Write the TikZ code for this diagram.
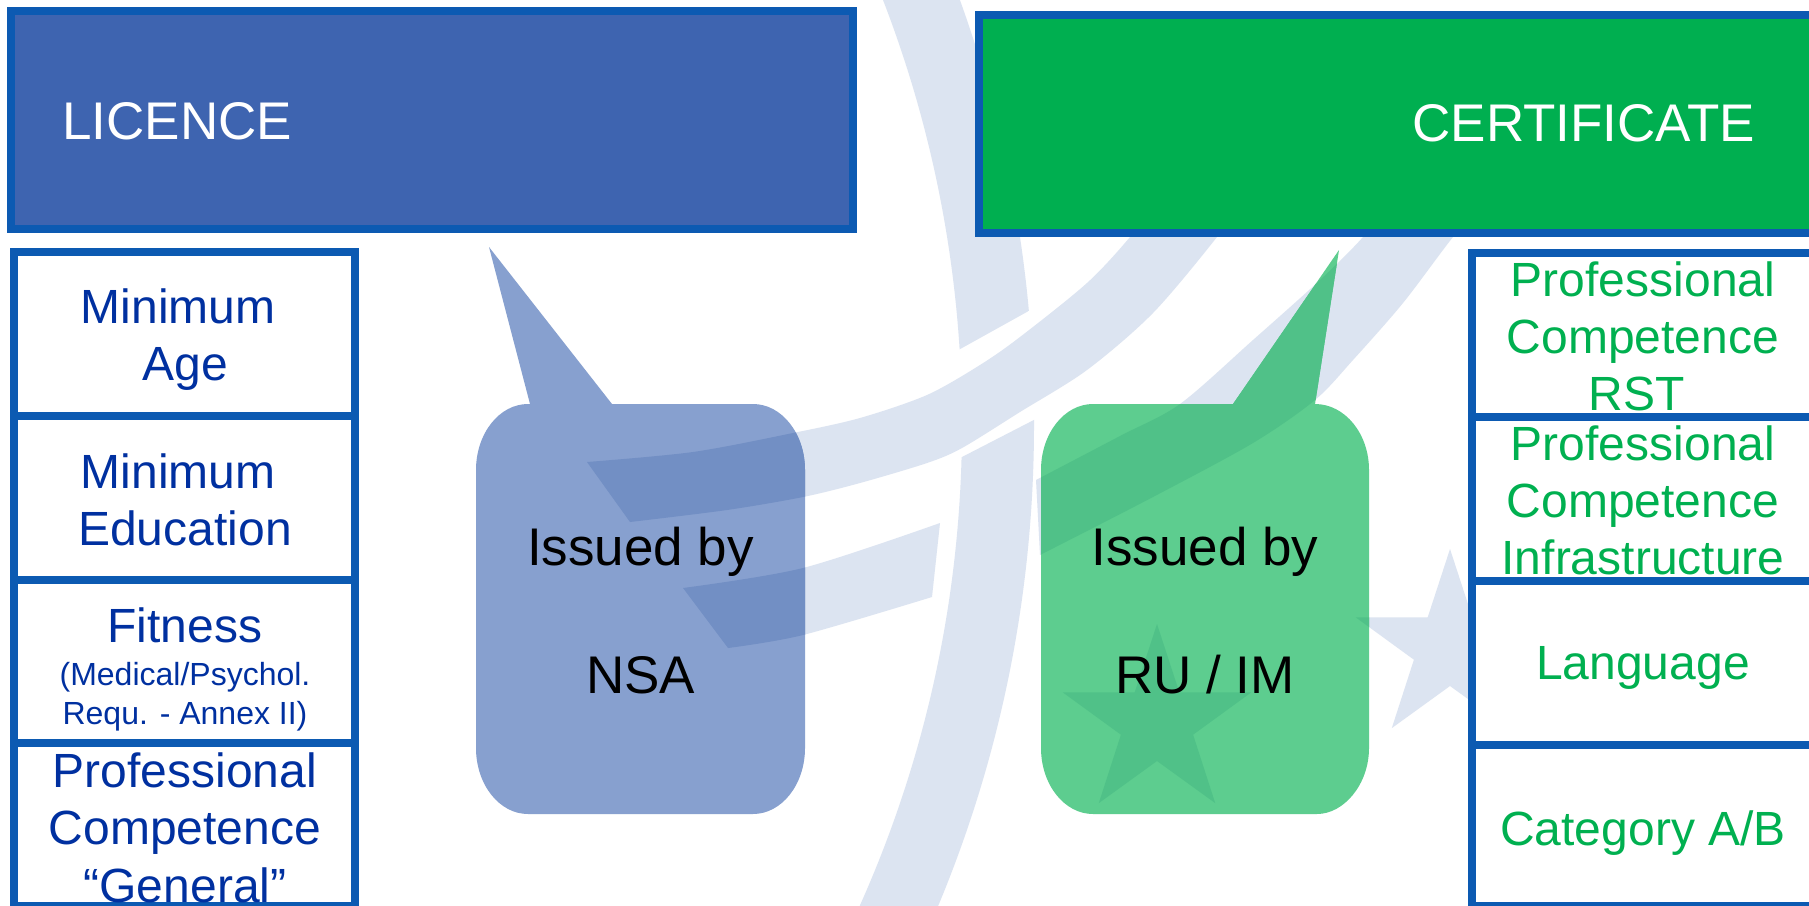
\documentclass[tikz,border=0pt]{standalone}
\usepackage{fontspec}
\setmainfont{Liberation Sans}
\definecolor{wmcol}{RGB}{220,228,241}
\definecolor{callblue}{RGB}{135,160,207}
\definecolor{wmonblue}{RGB}{114,143,196}
\definecolor{callgreen}{RGB}{93,205,143}
\definecolor{wmongreen}{RGB}{80,193,136}
\definecolor{licfill}{RGB}{62,100,176}
\definecolor{certfill}{RGB}{0,175,80}
\definecolor{bordcol}{RGB}{12,90,178}
\definecolor{ltcol}{RGB}{0,48,160}
\definecolor{rtcol}{RGB}{0,176,80}
\tikzset{
  hdrbox/.style={draw=bordcol, line width=4pt},
  colbox/.style={draw=bordcol, line width=4pt, fill=white},
  hdrtxt/.style={text=white, font=\fontsize{26.5pt}{31pt}\selectfont, inner sep=0pt, anchor=north west},
  calltxt/.style={text=black, font=\fontsize{26.5pt}{64pt}\selectfont, align=center, inner sep=0pt, anchor=north},
  ltxt/.style={text=ltcol, font=\fontsize{24pt}{28.75pt}\selectfont, align=center, inner sep=0pt, anchor=north},
  lsmall/.style={text=ltcol, font=\fontsize{16pt}{19.25pt}\selectfont, align=center, inner sep=0pt, anchor=north},
  rtxt/.style={text=rtcol, font=\fontsize{24pt}{28.5pt}\selectfont, align=center, inner sep=0pt, anchor=north},
}
\newcommand{\wmdraw}[1]{%
  \begin{scope}
    \clip (850,-30) -- (1110,-30) -- (1110,266) -- (1025,313) -- (962,348) -- (850,410) -- cycle;
    \fill[#1, even odd rule] (-216,425) circle[radius=625pt] (-216,425) circle[radius=589pt];
  \end{scope}
  \begin{scope}
    \clip (850,930) -- (1110,930) -- (1110,381) -- (1028,423) -- (962,457) -- (850,515) -- cycle;
    \fill[#1, even odd rule] (-216,425) circle[radius=625pt] (-216,425) circle[radius=589pt];
  \end{scope}
  \fill[#1] plot[smooth] coordinates {(587,462) (693,452) (793,433) (860,418) (927,395) (980,365) (1020,337) (1087,283) (1130,237) (1165,190)}
    -- plot[smooth] coordinates {(1250,190) (1217,237) (1153,313) (1087,370) (1020,412) (962,448) (927,463) (860,483) (803,497) (727,510) (630,522)} -- cycle;
  \fill[#1] plot[smooth] coordinates {(1036,480) (1120,436) (1180,404) (1253,340) (1320,280) (1363,237) (1395,195)}
    -- plot[smooth] coordinates {(1490,195) (1453,237) (1403,303) (1353,360) (1315,400) (1253,443) (1153,497) (1040,555)} -- cycle;
  \fill[#1] plot[smooth] coordinates {(683,588) (803,568) (940,523)}
    -- plot[smooth] coordinates {(932,597) (803,635) (728,648)} -- cycle;
  \fill[#1, shift={(1450,648)}] (0,-99) -- (22.3,-30.7) -- (94.2,-30.6) -- (36.1,11.7) -- (58.2,80.1) -- (0,38) -- (-58.2,80.1) -- (-36.1,11.7) -- (-94.2,-30.6) -- (-22.3,-30.7) -- cycle;
  \fill[#1, shift={(1157,723)}] (0,-99) -- (22.3,-30.7) -- (94.2,-30.6) -- (36.1,11.7) -- (58.2,80.1) -- (0,38) -- (-58.2,80.1) -- (-36.1,11.7) -- (-94.2,-30.6) -- (-22.3,-30.7) -- cycle;
}
\newcommand{\bluecallout}{(530,404) -- (489,247) -- (612,404) -- (753,404) .. controls (781.7,404) and (805,433.5) .. (805,470) -- (805,748) .. controls (805,784.5) and (781.7,814) .. (753,814) -- (528,814) .. controls (499.3,814) and (476,784.5) .. (476,748) -- (476,470) .. controls (476,433.5) and (499.3,404) .. (528,404) -- cycle}
\newcommand{\greencallout}{(1093,404) -- (1233,404) -- (1339,250) -- (1315,404) .. controls (1344.8,404) and (1369,433.5) .. (1369,470) -- (1369,748) .. controls (1369,784.5) and (1343.7,814) .. (1317,814) -- (1093,814) .. controls (1064.3,814) and (1041,784.5) .. (1041,748) -- (1041,470) .. controls (1041,433.5) and (1064.3,404) .. (1093,404) -- cycle}
\begin{document}
\begin{tikzpicture}[x=0.5pt, y=-0.5pt]
\useasboundingbox (0,0) rectangle (1809,905);
\clip (0,0) rectangle (1809,905);
\fill[white] (0,0) rectangle (1809,905);
% watermark
\wmdraw{wmcol}
% callouts
\fill[callblue] \bluecallout;
\begin{scope}
  \clip \bluecallout;
  \wmdraw{wmonblue}
\end{scope}
\fill[callgreen] \greencallout;
\begin{scope}
  \clip \greencallout;
  \wmdraw{wmongreen}
\end{scope}
\node[calltxt] (nsa) at (640.5,527) {Issued by\\NSA};
\node[calltxt] (ruim) at (1205,527) {Issued by\\RU / IM};
% header boxes
\draw[hdrbox, fill=licfill] (11,11) rectangle (853,229);
\draw[hdrbox, fill=certfill] (979,14.5) rectangle (1840,232.5);
\node[hdrtxt] (lic) at (62,102) {LICENCE};
\node[hdrtxt] (cert) at (1412,104) {CERTIFICATE};
% left column
\draw[colbox] (14,252) rectangle (355,416);
\draw[colbox] (14,416) rectangle (355,580);
\draw[colbox] (14,580) rectangle (355,743);
\draw[colbox] (14,743) rectangle (355,906);
\node[ltxt] (l1) at (185,288) {Minimum\hspace*{.278em}\\Age};
\node[ltxt] (l2) at (185,453) {Minimum\hspace*{.278em}\\Education};
\node[ltxt] (l3) at (185,607) {Fitness};
\node[lsmall] (l3b) at (185,662) {(Medical/Psychol.\\Requ. - Annex II)};
\node[ltxt] (l4) at (185,752) {Professional\\Competence\\“General”};
% right column
\draw[colbox] (1472,253) rectangle (1840,416.5);
\draw[colbox] (1472,416.5) rectangle (1840,581);
\draw[colbox] (1472,581) rectangle (1840,744.5);
\draw[colbox] (1472,744.5) rectangle (1840,906);
\node[rtxt] (r1) at (1643,261) {Professional\\Competence\\RST\hspace*{.278em}};
\node[rtxt] (r2) at (1643,425) {Professional\\Competence\\Infrastructure};
\node[rtxt] (r3) at (1643,646) {Language};
\node[rtxt] (r4) at (1643,810) {Category A/B};
\end{tikzpicture}
\end{document}
